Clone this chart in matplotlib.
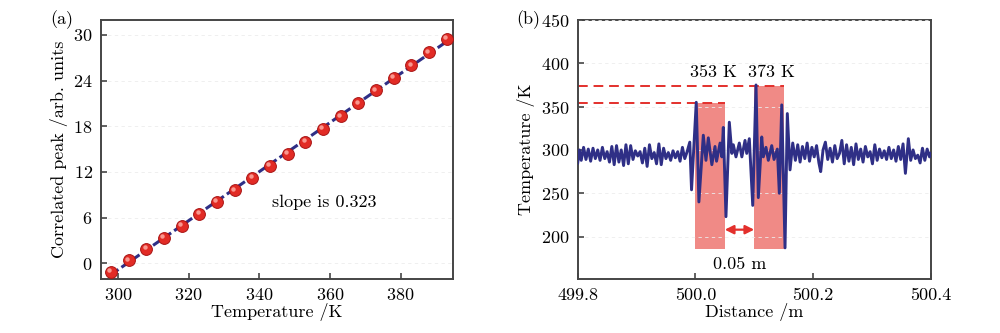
import numpy as np
import matplotlib
matplotlib.use("Agg")
import matplotlib.pyplot as plt
from matplotlib.transforms import offset_copy

plt.rcParams['font.family'] = ['cmr10', 'DejaVu Serif']
plt.rcParams['mathtext.fontset'] = 'cm'
plt.rcParams['axes.formatter.use_mathtext'] = True

# ---------------- data: panel (a) ----------------
temp_a = [298, 303, 308, 313, 318, 323, 328, 333, 338, 343,
          348, 353, 358, 363, 368, 373, 378, 383, 388, 393]
peak_a = [-1.1, 0.4, 1.9, 3.4, 4.9, 6.5, 8.1, 9.6, 11.2, 12.8,
          14.4, 16.0, 17.7, 19.3, 21.0, 22.7, 24.4, 26.0, 27.7, 29.5]
xticks_a = [300, 320, 340, 360, 380]
yticks_a = [0, 6, 12, 18, 24, 30]

# ---------------- data: panel (b) ----------------
dist_b = [
    499.800, 499.803, 499.806, 499.810, 499.814, 499.818, 499.822, 499.826, 499.830, 499.834,
    499.838, 499.842, 499.846, 499.850, 499.854, 499.858, 499.862, 499.866, 499.870, 499.874,
    499.878, 499.882, 499.886, 499.890, 499.894, 499.898, 499.902, 499.906, 499.910, 499.914,
    499.918, 499.922, 499.926, 499.930, 499.934, 499.938, 499.942, 499.946, 499.950, 499.954,
    499.958, 499.962, 499.966, 499.970, 499.974, 499.978, 499.982, 499.986, 499.9905, 499.9935,
    500.0015, 500.006, 500.0135, 500.018, 500.022, 500.028, 500.0334, 500.036, 500.042, 500.045,
    500.0475, 500.052, 500.0577, 500.062, 500.0645, 500.069, 500.0747, 500.079, 500.0844, 500.0873,
    500.0917, 500.0975, 500.1031, 500.107, 500.1128, 500.1155, 500.120, 500.124, 500.1298, 500.1337,
    500.1393, 500.1427, 500.1468, 500.1524, 500.1563, 500.1609, 500.1655,
    500.170, 500.174, 500.178, 500.182, 500.186, 500.190, 500.194, 500.198, 500.202, 500.206,
    500.210, 500.213, 500.217, 500.221, 500.225, 500.229, 500.233, 500.237, 500.241, 500.245,
    500.249, 500.253, 500.257, 500.261, 500.265, 500.269, 500.273, 500.277, 500.281, 500.285,
    500.289, 500.293, 500.297, 500.301, 500.305, 500.309, 500.313, 500.317, 500.321, 500.325,
    500.329, 500.333, 500.337, 500.341, 500.345, 500.349, 500.353, 500.357, 500.362, 500.366,
    500.370, 500.374, 500.378, 500.382, 500.386, 500.390, 500.394, 500.398, 500.400,
]
temp_b = [
    285, 300, 288, 303, 289, 301, 287, 302, 290, 300,
    288, 303, 290, 298, 286, 304, 283, 305, 286, 300,
    282, 306, 284, 305, 289, 299, 293, 298, 285, 302,
    281, 306, 290, 297, 284, 307, 283, 302, 290, 297,
    288, 299, 291, 298, 287, 303, 290, 298, 309, 254,
    355, 240, 317, 288, 314, 283, 304, 287, 308, 292,
    326, 223, 332, 296, 306, 292, 308, 292, 311, 296,
    313, 236, 375, 245, 315, 292, 303, 288, 305, 289,
    301, 250, 352, 187, 342, 277, 308,
    288, 306, 286, 304, 290, 308, 287, 303, 292, 305,
    285, 275, 300, 309, 289, 302, 286, 305, 290, 296,
    311, 284, 306, 287, 303, 283, 307, 289, 301, 286,
    304, 292, 298, 284, 306, 288, 301, 291, 299, 289,
    303, 290, 300, 287, 304, 289, 307, 273, 313, 288,
    300, 290, 294, 285, 302, 288, 301, 292, 296,
]
zone_left = [500.0, 500.1]
zone_width = 0.05
zone_top = [354, 374]
zone_bottom = 186
zone_labels = ['353 K', '373 K']
gap_y = 208
xticks_b = [499.8, 500.0, 500.2, 500.4]
yticks_b = [200, 250, 300, 350, 400, 450]

NAVY = '#2f2f86'
RED = '#e3302c'
SPINE = '#454545'
FS = 13

fig = plt.figure(figsize=(10, 3.33), dpi=100)

def style(ax):
    for s in ax.spines.values():
        s.set_color(SPINE)
        s.set_linewidth(1.4)
    ax.tick_params(direction='in', length=4, width=1.2, color=SPINE,
                   labelsize=FS, pad=6)
    ax.grid(axis='y', color='#ececec', ls=(0, (4, 4)), lw=0.6)

# ---------------- panel (a) ----------------
ax1 = fig.add_axes([0.101, 0.162, 0.352, 0.778])
style(ax1)
coef = np.polyfit(temp_a, peak_a, 1)
xf = np.array([temp_a[0], temp_a[-1]])
ax1.plot(xf, np.polyval(coef, xf), color=NAVY, lw=2.2, ls=(0, (3, 1.2)), zorder=3)
ax1.plot(temp_a, peak_a, 'o', ms=8.5, mfc='#e22b25', mec='#a81414', mew=0.7, zorder=4)
hl = offset_copy(ax1.transData, fig=fig, x=-1.2, y=1.2, units='points')
ax1.plot(temp_a, peak_a, 'o', ms=3.2, mfc='#ffb4ac', mec='none', alpha=0.8,
         zorder=5, transform=hl)
ax1.set_xlim(295.2, 394.8)
ax1.set_ylim(-2.05, 31.95)
ax1.set_xticks(xticks_a)
ax1.set_yticks(yticks_a)
ax1.set_xlabel('Temperature /K', fontsize=FS, labelpad=0)
ax1.set_ylabel('Correlated peak /arb. units', fontsize=FS, labelpad=4)
ax1.text(343.6, 8.05, 'slope is 0.323', fontsize=FS, va='center', ha='left')
fig.text(0.062, 0.94, '(a)', fontsize=FS, ha='center', va='center')

# ---------------- panel (b) ----------------
ax2 = fig.add_axes([0.5777, 0.162, 0.353, 0.778])
style(ax2)
ax2.set_axisbelow(False)
ax2.bar(zone_left, [t - zone_bottom for t in zone_top], width=zone_width,
        bottom=zone_bottom, align='edge', color='#f08a86', zorder=1)
ax2.hlines(zone_top, xticks_b[0], [l + zone_width for l in zone_left],
           colors=RED, linestyles=(0, (5, 3)), lw=1.4, zorder=2)
ax2.plot(dist_b, temp_b, color=NAVY, lw=2.1, zorder=3)
ax2.annotate('', xy=(zone_left[1], gap_y), xytext=(zone_left[0] + zone_width, gap_y),
             arrowprops=dict(arrowstyle='<|-|>', color=RED, lw=1.6,
                             shrinkA=0, shrinkB=0, mutation_scale=13), zorder=4)
for l, t, lab in zip(zone_left, zone_top, zone_labels):
    ax2.text(l + 0.03, 390, lab, fontsize=FS, ha='center', va='center')
ax2.text(zone_left[0] + zone_width + 0.025, 168.5, '0.05 m', fontsize=FS,
         ha='center', va='center')
ax2.set_xlim(499.8, 500.4)
ax2.set_ylim(151, 450)
ax2.set_xticks(xticks_b)
ax2.set_xticklabels(['%.1f' % v for v in xticks_b])
ax2.set_yticks(yticks_b)
ax2.set_xlabel('Distance /m', fontsize=FS, labelpad=0)
ax2.set_ylabel('Temperature /K', fontsize=FS, labelpad=4)
fig.text(0.528, 0.94, '(b)', fontsize=FS, ha='center', va='center')

fig.savefig('out.png', dpi=100)
